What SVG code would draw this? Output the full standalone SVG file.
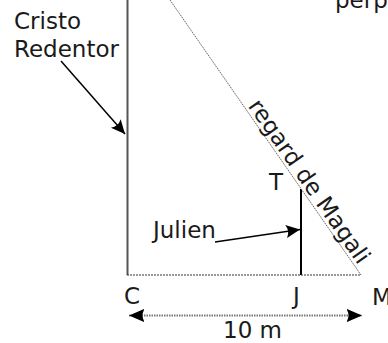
<svg xmlns="http://www.w3.org/2000/svg" width="388" height="343" viewBox="0 0 388 343">
<style>
text{font-family:"DejaVu Sans","Verdana",sans-serif;font-size:23px;fill:#1a1a1a}
.head{fill:#000}
</style>
<defs>
<marker id="ah" markerUnits="userSpaceOnUse" viewBox="-15 -8 16 16" refX="0" refY="0" markerWidth="16" markerHeight="16" orient="auto">
<path class="head" d="M0,0 L-14,-6.5 Q-10,0 -14,6.5 Z"/>
</marker>
<marker id="ahs" markerUnits="userSpaceOnUse" viewBox="-15 -8 16 16" refX="0" refY="0" markerWidth="16" markerHeight="16" orient="auto-start-reverse">
<path class="head" d="M0,0 L-16,-7 Q-11,0 -16,7 Z"/>
</marker>
</defs>
<g id="cristo">
<line x1="127.5" y1="0" x2="127.5" y2="275" stroke="#555" stroke-width="2"/>
<text x="14" y="29">Cristo</text>
<text x="14" y="57">Redentor</text>
</g>
<g id="julien">
<line x1="301" y1="189" x2="301" y2="275" stroke="#000" stroke-width="2"/>
<text x="153" y="238">Julien</text>
</g>
<g id="regard">
<line x1="170" y1="0" x2="361" y2="275" stroke="#666" stroke-width="1" stroke-dasharray="1.5,0.8"/>
<text transform="translate(247.5,106) rotate(55.2)">regard de Magali</text>
</g>
<g id="points">
<text x="269" y="190">T</text>
<text x="124" y="304">C</text>
<text x="293" y="304">J</text>
<text x="372" y="305">M</text>
<text x="335" y="8">perp</text>
</g>
<g id="connectors">
<line x1="127" y1="275" x2="361" y2="275" stroke="#333" stroke-width="1.2" stroke-dasharray="2,1"/>
<line x1="61" y1="61" x2="125" y2="134" stroke="#000" stroke-width="1.5" marker-end="url(#ah)"/>
<line x1="215" y1="242" x2="300" y2="229.5" stroke="#000" stroke-width="1.5" marker-end="url(#ah)"/>
<line x1="129" y1="315.5" x2="362" y2="315.5" stroke="#777" stroke-width="2" stroke-dasharray="1.5,1" marker-start="url(#ahs)" marker-end="url(#ahs)"/>
</g>
<g id="dim">
<text x="223" y="338">10 m</text>
</g>
</svg>
